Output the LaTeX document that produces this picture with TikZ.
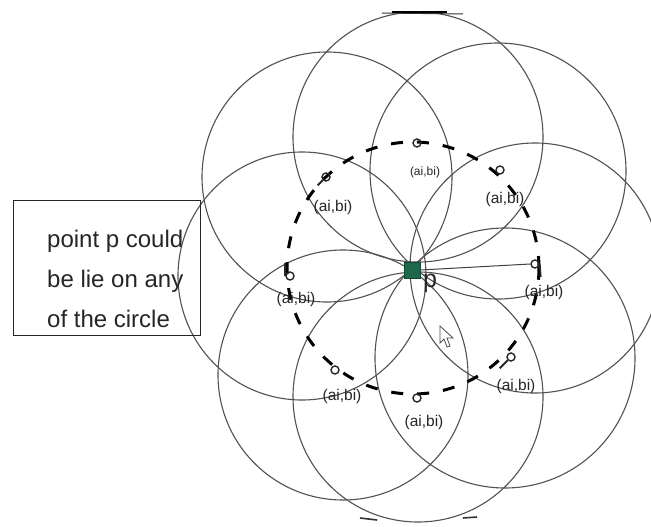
\documentclass[tikz,border=0pt]{standalone}
\usepackage{fontspec}
\setmainfont{Liberation Sans}
\definecolor{pgreen}{RGB}{30,105,75}
\definecolor{pgreenb}{RGB}{20,70,50}
\begin{document}
\begin{tikzpicture}[x=1pt,y=-1pt,
  ring/.style={draw=black!68, line width=1.1pt},
  dashring/.style={draw=black, line width=3pt, dash pattern=on 12pt off 14pt},
  mk/.style={draw=black!85, line width=1.4pt, circle, minimum size=8pt, inner sep=0pt},
  tail/.style={draw=black!85, line width=1.8pt},
  lab/.style={font=\fontsize{15.5}{15.5}\selectfont, inner sep=0pt, text=black!85},
  boxtxt/.style={font=\fontsize{24}{24}\selectfont, anchor=base west, inner sep=0pt, text=black!85}]
\useasboundingbox (0,0) rectangle (651,527);
\fill[white] (0,0) rectangle (651,527);

% eight circles through p
\draw[ring] (418,137) circle[radius=125pt];
\draw[ring] (498,171) circle[radius=128pt];
\draw[ring] (535,268) circle[radius=125pt];
\draw[ring] (505,358) circle[radius=130pt];
\draw[ring] (418,397) circle[radius=125pt];
\draw[ring] (343,375) circle[radius=125pt];
\draw[ring] (302,276) circle[radius=124pt];
\draw[ring] (327,177) circle[radius=125pt];

% small strokes at top and bottom
\draw[black!80, line width=1pt] (382,13) -- (463,14);
\draw[black, line width=2pt] (392,12) -- (447,12);
\draw[black!80, line width=1.6pt] (360,518) -- (377,520);
\draw[black!80, line width=1.6pt] (463,518) -- (477,517);

% dashed circle of centres
\draw[dashring] (413,268) circle[radius=126pt];

% centre point p
\node[draw=pgreenb, fill=pgreen, minimum size=16pt, inner sep=0pt, line width=0.8pt] (p) at (412,270) {};
\node[font=\fontsize{25}{25}\selectfont, anchor=base west, inner sep=0pt, text=black!85] (plab) at (423,287) {p};

% markers on the dashed circle
\node[mk] (mtop) at (417,143) {};
\node[mk] (mur) at (500,170) {};
\node[mk] (mr) at (535,264) {};
\node[mk] (mlr) at (511,357) {};
\node[mk] (mb) at (417,398) {};
\node[mk] (mll) at (335,370) {};
\node[mk] (ml) at (290,276) {};
\node[mk] (mul) at (326,177) {};
\draw[tail] (mr.east) -- ++(1,13);
\draw[tail] (mlr.south west) -- ++(-8,8);
\draw[tail] (mul.south west) -- ++(-5,5);
\draw[tail] (ml.west) -- ++(0,-13);

% radius line from p to the right marker
\draw[black!75, line width=1pt] (p.east) -- (mr.west);

% labels
\node[lab, font=\fontsize{12}{12}\selectfont] (ltop) at (425,172) {(ai,bi)};
\node[lab] (lul) at (333,207) {(ai,bi)};
\node[lab] (lur) at (505,199) {(ai,bi)};
\node[lab] (lr) at (544,292) {(ai,bi)};
\node[lab] (ll) at (296,299) {(ai,bi)};
\node[lab] (lll) at (342,396) {(ai,bi)};
\node[lab] (lb) at (424,422) {(ai,bi)};
\node[lab] (llr) at (516,386) {(ai,bi)};

% cursor
\draw[black!70, line width=0.8pt, fill=white] (440,326) -- (440,343) -- (444,339) -- (447,347) -- (450,346) -- (447,338) -- (453,338) -- cycle;

% text box
\node[draw=black!85, line width=1.3pt, minimum width=187pt, minimum height=135pt, anchor=north west, inner sep=0pt] (box) at (13,200) {};
\node[boxtxt] (t1) at (47,247) {point p could};
\node[boxtxt] (t2) at (47,287) {be lie on any};
\node[boxtxt] (t3) at (47,327) {of the circle};
\end{tikzpicture}
\end{document}
